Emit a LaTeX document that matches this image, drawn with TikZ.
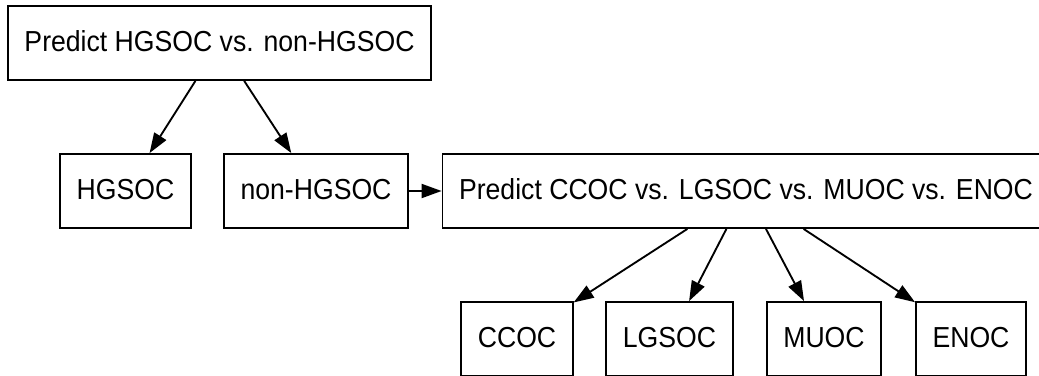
\documentclass[tikz,border=0pt]{standalone}
\usepackage{fontspec}
\setmainfont{Liberation Sans}[FakeStretch=0.92]
\usetikzlibrary{arrows.meta}

\begin{document}
\begin{tikzpicture}[x=0.75pt,y=-0.75pt,
  box/.style={draw,line width=1.4pt,minimum height=55.5pt,inner xsep=12.4pt,
    text height=15.5pt,text depth=3.4pt,
    font=\fontsize{21.7pt}{26pt}\selectfont},
  edge/.style={line width=1.4pt,-{Triangle[length=15pt,width=10.5pt]}}]
\clip (0,0) rectangle (1039,375);
\node[box] (top) at (219.5,43) {Predict HGSOC vs. non-HGSOC};
\node[box] (hgsoc) at (125.5,191) {HGSOC};
\node[box] (nonhgsoc) at (316,191) {non-HGSOC};
\node[box] (sub) at (746,191) {Predict CCOC vs. LGSOC vs. MUOC vs. ENOC};
\node[box] (ccoc) at (517,339) {CCOC};
\node[box] (lgsoc) at (669.5,339) {LGSOC};
\node[box] (muoc) at (824,339) {MUOC};
\node[box] (enoc) at (971,339) {ENOC};
\draw[edge] (top) -- (hgsoc);
\draw[edge] (top) -- (nonhgsoc);
\draw[edge] (nonhgsoc) -- (sub);
\draw[edge] (sub) -- (ccoc);
\draw[edge] (sub) -- (lgsoc);
\draw[edge] (sub) -- (muoc);
\draw[edge] (sub) -- (enoc);
\end{tikzpicture}
\end{document}
